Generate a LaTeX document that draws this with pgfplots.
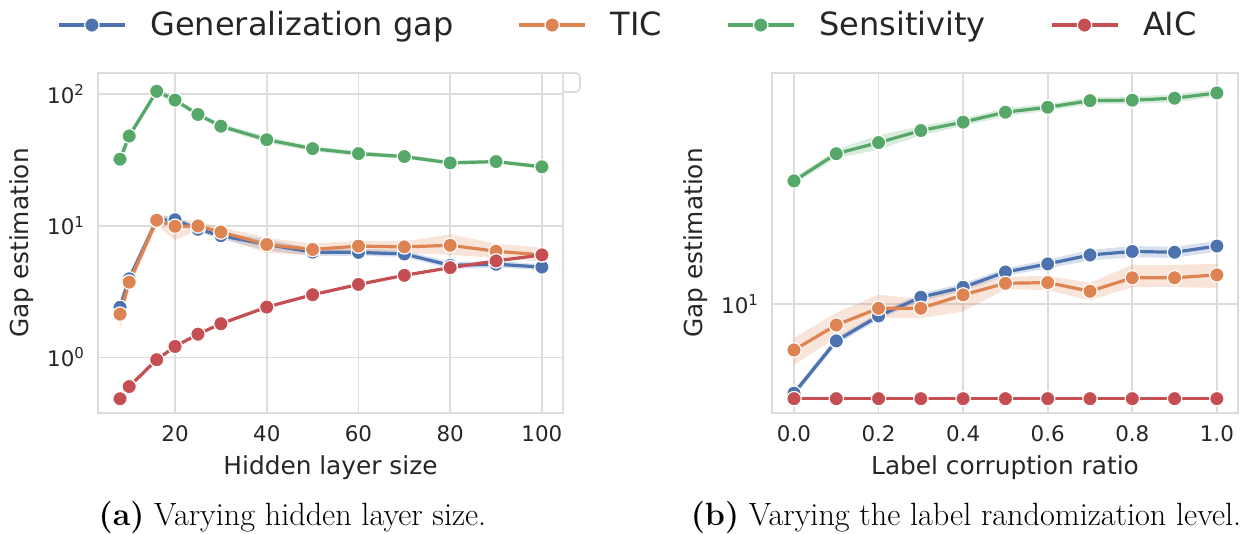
\documentclass[border=0pt]{standalone}
\usepackage{pgfplots}
\pgfplotsset{compat=1.18}
\usepgfplotslibrary{fillbetween}
\usepackage{pgfplotstable}
\usepackage{fontspec}
\newfontfamily\dejavu{DejaVu Sans}

\definecolor{sbblue}{HTML}{4C72B0}
\definecolor{sborange}{HTML}{DD8452}
\definecolor{sbgreen}{HTML}{55A868}
\definecolor{sbred}{HTML}{C44E52}
\definecolor{gridgray}{HTML}{DCDCDC}
\definecolor{txt}{HTML}{262626}

% left panel: hidden layer size (x, mean, band low, band high)
\pgfplotstableread{
x   y     lo    hi
8   2.4   2.1   2.7
10  3.95  3.6   4.3
16  11.0  10.2  11.8
20  11.1  10.3  11.8
25  9.4   9.0   9.9
30  8.4   7.9   8.9
40  7.2   6.5   7.9
50  6.3   5.9   6.7
60  6.27  5.9   6.7
70  6.1   5.8   6.5
80  5.0   4.7   5.3
90  5.1   4.8   5.4
100 4.85  4.6   5.1
}\lgen
\pgfplotstableread{
x   y     lo    hi
8   2.13  1.6   2.8
10  3.73  3.3   4.2
16  11.0  10.0  12.5
20  9.9   7.8   11.3
25  9.95  9.2   10.7
30  8.95  8.2   9.8
40  7.2   6.2   8.1
50  6.6   6.0   7.3
60  7.0   6.4   7.7
70  6.9   6.2   7.6
80  7.1   6.0   8.6
90  6.4   5.7   7.3
100 6.0   5.3   6.8
}\ltic
\pgfplotstableread{
x   y     lo    hi
8   32    27    36
10  48    45    51
16  105   99    111
20  90    86    94
25  70    67    73
30  57    54.5  59.5
40  45    42.5  47.5
50  38.5  36.8  40.2
60  35.3  33.8  36.8
70  33.5  32.2  34.8
80  30    28.9  31.1
90  30.7  29.6  31.8
100 28    27    29
}\lsens
\pgfplotstableread{
x   y
8   0.485
10  0.60
16  0.96
20  1.21
25  1.50
30  1.80
40  2.41
50  2.99
60  3.58
70  4.2
80  4.8
90  5.4
100 6.0
}\laic

% right panel: label corruption ratio
\pgfplotstableread{
x    y      lo     hi
0.0  4.80   4.65   4.95
0.1  7.38   7.15   7.6
0.2  9.06   8.8    9.3
0.3  10.57  10.25  10.9
0.4  11.47  11.1   11.85
0.5  13.0   12.6   13.4
0.6  13.9   13.4   14.4
0.7  14.96  14.3   15.6
0.8  15.4   14.7   16.1
0.9  15.3   14.6   16.0
1.0  16.1   15.4   16.8
}\rgen
\pgfplotstableread{
x    y      lo     hi
0.0  6.85   6.06   7.56
0.1  8.41   7.6    9.3
0.2  9.65   8.9    10.8
0.3  9.65   8.9    10.4
0.4  10.77  9.4    11.5
0.5  11.85  11.3   12.5
0.6  11.92  11.2   12.6
0.7  11.1   10.3   11.9
0.8  12.4   11.5   13.8
0.9  12.4   11.5   13.8
1.0  12.7   11.4   13.9
}\rtic
\pgfplotstableread{
x    y      lo     hi
0.0  27.5   26.8   28.2
0.1  34.4   33.2   35.6
0.2  37.7   35.5   40.0
0.3  41.6   40.0   43.2
0.4  44.6   43.2   46.0
0.5  48.4   46.8   50.0
0.6  50.4   49.0   51.8
0.7  53.2   51.6   54.8
0.8  53.4   51.8   55.0
0.9  54.3   52.5   56.1
1.0  56.7   55.0   58.4
}\rsens
\pgfplotstableread{
x    y
0.0  4.59
0.1  4.59
0.2  4.59
0.3  4.59
0.4  4.59
0.5  4.59
0.6  4.59
0.7  4.59
0.8  4.59
0.9  4.59
1.0  4.59
}\raic

\tikzset{
  gline/.style={color=#1, line width=1.6pt, mark=*, mark size=3.6pt,
    mark options={fill=#1, draw=white, line width=0.6pt, solid}},
  bandfill/.style={fill=#1, fill opacity=0.22, draw=none},
}

\begin{document}
\begin{tikzpicture}

\begin{axis}[at={(49pt,60.5pt)}, anchor=south west,
  scale only axis, width=232.5pt, height=170pt,
  ymode=log,
  axis line style={draw=gridgray, line width=1pt},
  grid=major, major grid style={draw=gridgray, line width=0.8pt},
  major tick length=0pt, minor tick length=0pt,
  tick label style={font=\fontsize{10.7}{12}\selectfont\dejavu, text=txt},
  label style={font=\fontsize{12.4}{14}\selectfont\dejavu, text=txt},
  xticklabel style={yshift=-3pt}, yticklabel style={xshift=-3pt},
  xmin=3.2, xmax=104.6, ymin=0.378, ymax=144.5,
  xtick={20,40,60,80,100}, xticklabels={20,40,60,80,100},
  ytick={1,10,100},
  yticklabels={10\textsuperscript{0},10\textsuperscript{1},10\textsuperscript{2}},
  xlabel={Hidden layer size}, ylabel={Gap estimation},
  legend columns=4,
  legend style={draw=none, fill=none, at={(1.142,1.141)}, anchor=center,
    font=\fontsize{16}{19}\selectfont\dejavu, text=txt,
    /tikz/every odd column/.append style={column sep=10pt},
    /tikz/every even column/.append style={column sep=30pt}},
  legend image code/.code={\draw[#1, mark repeat=2, mark phase=2]
    plot coordinates {(0pt,0pt) (16.5pt,0pt) (33pt,0pt)};},
]
\addplot[name path=a1, draw=none, forget plot] table[x=x, y=lo] {\lgen};
\addplot[name path=a2, draw=none, forget plot] table[x=x, y=hi] {\lgen};
\addplot[bandfill=sbblue, forget plot] fill between[of=a1 and a2];
\addplot[name path=b1, draw=none, forget plot] table[x=x, y=lo] {\ltic};
\addplot[name path=b2, draw=none, forget plot] table[x=x, y=hi] {\ltic};
\addplot[bandfill=sborange, forget plot] fill between[of=b1 and b2];
\addplot[name path=c1, draw=none, forget plot] table[x=x, y=lo] {\lsens};
\addplot[name path=c2, draw=none, forget plot] table[x=x, y=hi] {\lsens};
\addplot[bandfill=sbgreen, forget plot] fill between[of=c1 and c2];

\addplot[gline=sbblue] table[x=x, y=y] {\lgen};
\addlegendentry{Generalization gap}
\addplot[gline=sborange] table[x=x, y=y] {\ltic};
\addlegendentry{TIC}
\addplot[gline=sbgreen] table[x=x, y=y] {\lsens};
\addlegendentry{Sensitivity}
\addplot[gline=sbred] table[x=x, y=y] {\laic};
\addlegendentry{AIC}
\end{axis}

\begin{axis}[at={(386pt,60.5pt)}, anchor=south west,
  scale only axis, width=233pt, height=170pt,
  ymode=log,
  axis line style={draw=gridgray, line width=1pt},
  grid=major, major grid style={draw=gridgray, line width=0.8pt},
  major tick length=0pt, minor tick length=0pt,
  tick label style={font=\fontsize{10.7}{12}\selectfont\dejavu, text=txt},
  label style={font=\fontsize{12.4}{14}\selectfont\dejavu, text=txt},
  xticklabel style={yshift=-3pt}, yticklabel style={xshift=-3pt},
  xmin=-0.052, xmax=1.05, ymin=4.08, ymax=66.8,
  xtick={0,0.2,0.4,0.6,0.8,1.0}, xticklabels={0.0,0.2,0.4,0.6,0.8,1.0},
  ytick={10}, yticklabels={10\textsuperscript{1}},
  xlabel={Label corruption ratio}, ylabel={Gap estimation},
]
\addplot[name path=d1, draw=none, forget plot] table[x=x, y=lo] {\rgen};
\addplot[name path=d2, draw=none, forget plot] table[x=x, y=hi] {\rgen};
\addplot[bandfill=sbblue, forget plot] fill between[of=d1 and d2];
\addplot[name path=e1, draw=none, forget plot] table[x=x, y=lo] {\rtic};
\addplot[name path=e2, draw=none, forget plot] table[x=x, y=hi] {\rtic};
\addplot[bandfill=sborange, forget plot] fill between[of=e1 and e2];
\addplot[name path=f1, draw=none, forget plot] table[x=x, y=lo] {\rsens};
\addplot[name path=f2, draw=none, forget plot] table[x=x, y=hi] {\rsens};
\addplot[bandfill=sbgreen, forget plot] fill between[of=f1 and f2];

\addplot[gline=sbblue] table[x=x, y=y] {\rgen};
\addplot[gline=sborange] table[x=x, y=y] {\rtic};
\addplot[gline=sbgreen] table[x=x, y=y] {\rsens};
\addplot[gline=sbred] table[x=x, y=y] {\raic};
\end{axis}

% remnant of the empty legend frame at the edge of panel (a)
\draw[gridgray, line width=0.8pt, rounded corners=2pt]
  (281.5pt,221pt) -- (290pt,221pt) -- (290pt,230.5pt) -- (281.5pt,230.5pt);

\node[anchor=base, font=\fontsize{16.1}{19}\selectfont] at (146.25pt,4pt)
  {\textbf{(a)} Varying hidden layer size.};
\node[anchor=base, font=\fontsize{16.1}{19}\selectfont] at (483pt,4pt)
  {\textbf{(b)} Varying the label randomization level.};

\pgfresetboundingbox
\path[use as bounding box] (0,0) rectangle (621.5pt,267pt);
\end{tikzpicture}
\end{document}
